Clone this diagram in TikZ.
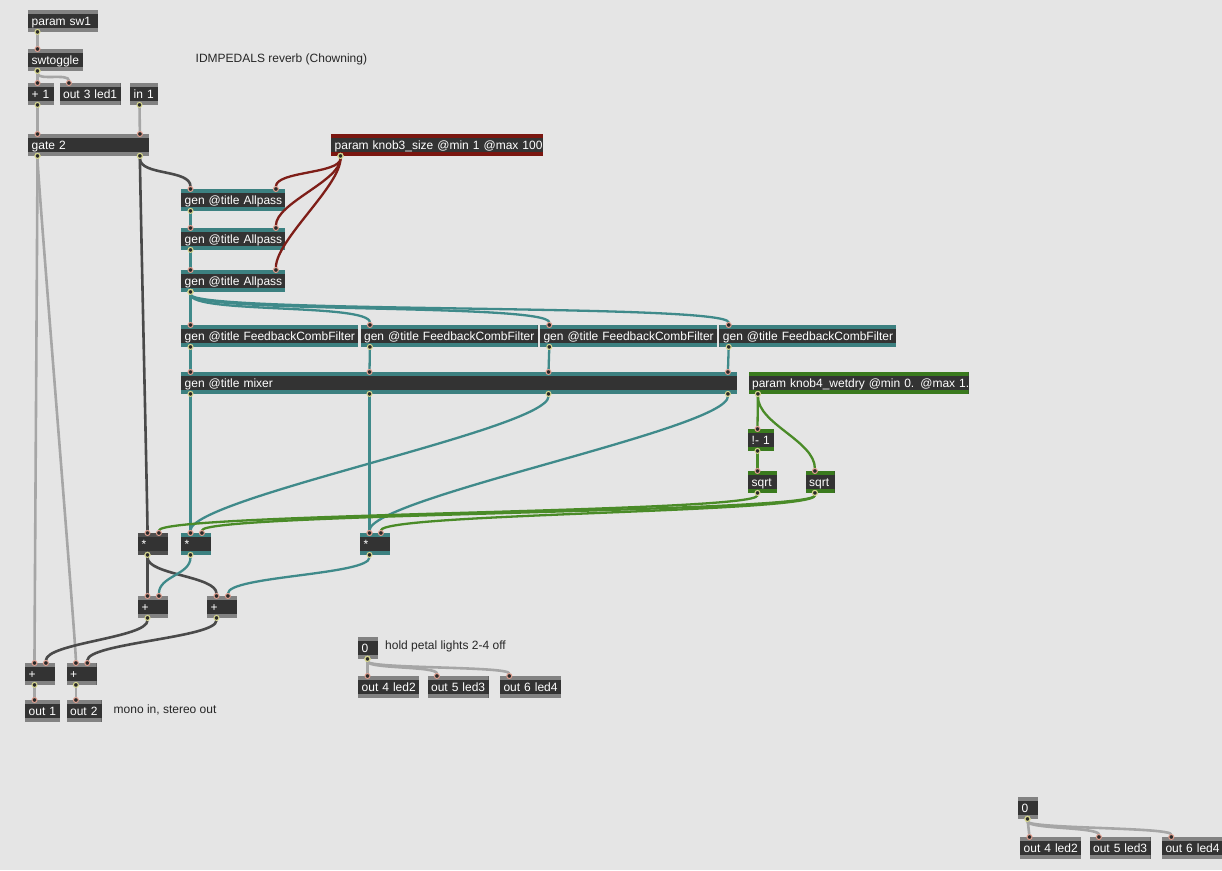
\documentclass[tikz,border=0pt]{standalone}
\usepackage{fontspec}
\setmainfont{Liberation Sans}
\usetikzlibrary{arrows.meta,positioning}
\definecolor{patchbg}{HTML}{E5E5E5}
\definecolor{maxbody}{HTML}{333333}
\definecolor{ctlbar}{HTML}{828282}
\definecolor{sigbar}{HTML}{4F4F4F}
\definecolor{genbar}{HTML}{3C8080}
\definecolor{redbar}{HTML}{7A1610}
\definecolor{grnbar}{HTML}{3A7A1E}
\definecolor{ctlline}{HTML}{A6A6A6}
\definecolor{sigline}{HTML}{4A4A4A}
\definecolor{genline}{HTML}{3F8A8A}
\definecolor{redline}{HTML}{7E1E18}
\definecolor{grnline}{HTML}{4A8B28}
\definecolor{inring}{HTML}{E0A090}
\definecolor{outring}{HTML}{D8D890}
\definecolor{portfill}{HTML}{2A2A2A}

\tikzset{
  inport/.tip={Circle[length=6pt 0 1,width=6pt 0 1,line width=1pt 0 1,color=inring,fill=portfill]},
  outport/.tip={Circle[length=6pt 0 1,width=6pt 0 1,line width=1pt 0 1,color=outring,fill=portfill]},
}

\begin{document}
\begin{tikzpicture}[
    x=1pt, y=-1pt,
    mx/.style={anchor=north west,fill=maxbody,text=white,font=\fontsize{12}{14}\selectfont,
      inner xsep=3.5pt,inner ysep=0pt,minimum height=21.5pt,text height=10.5pt,text depth=1.5pt,
      execute at begin node=\hbox\bgroup,execute at end node=\egroup},
    bar/.style={path picture={
      \fill[#1] (path picture bounding box.north west) rectangle ([yshift=-3.5pt]path picture bounding box.north east);
      \fill[#1] (path picture bounding box.south west) rectangle ([yshift=3.5pt]path picture bounding box.south east);}},
    ctlbox/.style={bar=ctlbar},
    sigbox/.style={bar=sigbar},
    genbox/.style={bar=genbar},
    redbox/.style={bar=redbar},
    grnbox/.style={bar=grnbar},
    note/.style={inner sep=0pt,anchor=base west,text=black!85,font=\fontsize{12}{14}\selectfont},
    cord/.style={shorten <=-3pt,shorten >=-3pt,arrows={outport-inport}},
    ctl/.style={cord,draw=ctlline,line width=2.6pt},
    sig/.style={cord,draw=sigline,line width=2.6pt},
    gen/.style={cord,draw=genline,line width=2.3pt},
    red/.style={cord,draw=redline,line width=2.3pt},
    grn/.style={cord,draw=grnline,line width=2.3pt},
    mc/.style={to path={.. controls +(0,#1) and +(0,-#1) .. (\tikztotarget)}},
    mc/.default=20
  ]
    \fill[patchbg] (0,0) rectangle (1222,870);
    \useasboundingbox (0,0) rectangle (1222,870);

    % switch and input
    \node[mx,ctlbox,text width=63pt] (psw) at (28,10) {param sw1};
    \node[mx,ctlbox,text width=48pt] (swt) at (28,49) {swtoggle};
    \node[mx,ctlbox,text width=19pt] (plus1) at (28,83) {+ 1};
    \node[mx,ctlbox,text width=54pt,right=5pt of plus1] (led1) {out 3 led1};
    \node[mx,ctlbox,text width=21pt] (in1) at (130,83) {in 1};
    \node[mx,ctlbox,text width=114pt] (gate) at (28,134) {gate 2};
    \node[note] (title) at (195.5,62) {IDMPEDALS reverb (Chowning)};

    % allpass chain
    \node[mx,redbox,text width=205pt] (knob3) at (331,134) {param knob3\_size @min 1 @max 100};
    \node[mx,genbox,text width=97pt] (ap1) at (181,189) {gen @title Allpass};
    \node[mx,genbox,text width=97pt] (ap2) at (181,228) {gen @title Allpass};
    \node[mx,genbox,text width=97pt] (ap3) at (181,270) {gen @title Allpass};

    % comb filters
    \node[mx,genbox,text width=170pt] (fcfA) at (181,325) {gen @title FeedbackCombFilter};
    \node[mx,genbox,text width=170pt,right=2pt of fcfA] (fcfB) {gen @title FeedbackCombFilter};
    \node[mx,genbox,text width=170pt,right=2pt of fcfB] (fcfC) {gen @title FeedbackCombFilter};
    \node[mx,genbox,text width=170pt,right=2pt of fcfC] (fcfD) {gen @title FeedbackCombFilter};
    \node[mx,genbox,text width=549pt] (mix) at (181,372) {gen @title mixer};

    % wet/dry
    \node[mx,grnbox,text width=213pt,right=11pt of mix] (knob4) {param knob4\_wetdry @min 0. @max 1.};
    \node[mx,grnbox,text width=19pt] (inv) at (748,429) {!- 1};
    \node[mx,grnbox,text width=22pt] (sqrtA) at (748,471) {sqrt};
    \node[mx,grnbox,text width=22pt,right=28pt of sqrtA] (sqrtB) {sqrt};
    \node[mx,sigbox,text width=23pt] (mulA) at (138,533) {*};
    \node[mx,genbox,text width=23pt] (mulB) at (181,533) {*};
    \node[mx,genbox,text width=23pt] (mulC) at (360,533) {*};
    \node[mx,ctlbox,text width=23pt] (addA) at (138,596) {+};
    \node[mx,ctlbox,text width=23pt] (addB) at (207,596) {+};

    % outputs
    \node[mx,ctlbox,text width=23pt] (addC) at (25,663) {+};
    \node[mx,ctlbox,text width=23pt,right=11pt of addC] (addD) {+};
    \node[mx,ctlbox,text width=28pt] (outL) at (25,700) {out 1};
    \node[mx,ctlbox,text width=28pt,right=6pt of outL] (outR) {out 2};
    \node[note] (monoNote) at (113.5,713) {mono in, stereo out};

    % petal lights
    \node[mx,ctlbox,text width=13pt] (zeroA) at (358,637) {0};
    \node[note] (holdNote) at (385,649.5) {hold petal lights 2-4 off};
    \node[mx,ctlbox,text width=54pt] (ledA2) at (358,676) {out 4 led2};
    \node[mx,ctlbox,text width=54pt,right=8pt of ledA2] (ledA3) {out 5 led3};
    \node[mx,ctlbox,text width=54pt,right=11pt of ledA3] (ledA4) {out 6 led4};
    \node[mx,ctlbox,text width=13pt] (zeroB) at (1018,797) {0};
    \node[mx,ctlbox,text width=54pt] (ledB2) at (1020,837) {out 4 led2};
    \node[mx,ctlbox,text width=54pt,right=8pt of ledB2] (ledB3) {out 5 led3};
    \node[mx,ctlbox,text width=54pt,right=11pt of ledB3] (ledB4) {out 6 led4};

    % control cords
    \draw[ctl] ([xshift=9.5pt]psw.south west) -- ([xshift=9.5pt]swt.north west);
    \draw[ctl] ([xshift=9.5pt]swt.south west) -- ([xshift=9.5pt]plus1.north west);
    \draw[ctl] ([xshift=9.5pt]swt.south west) to[mc=10] ([xshift=9.5pt]led1.north west);
    \draw[ctl] ([xshift=9.5pt]plus1.south west) -- ([xshift=9.5pt]gate.north west);
    \draw[ctl] ([xshift=9.5pt]in1.south west) -- ([xshift=-9.5pt]gate.north east);
    \draw[ctl] ([xshift=9.5pt]gate.south west) to[mc] ([xshift=9.5pt]addC.north west);
    \draw[ctl] ([xshift=9.5pt]gate.south west) to[mc] ([xshift=9.5pt]addD.north west);
    \draw[ctl] ([xshift=9.5pt]addC.south west) -- ([xshift=9.5pt]outL.north west);
    \draw[ctl] ([xshift=9.5pt]addD.south west) -- ([xshift=9.5pt]outR.north west);
    \draw[ctl] ([xshift=9.5pt]zeroA.south west) -- ([xshift=9.5pt]ledA2.north west);
    \draw[ctl] ([xshift=9.5pt]zeroA.south west) to[mc=10] ([xshift=9.5pt]ledA3.north west);
    \draw[ctl] ([xshift=9.5pt]zeroA.south west) to[mc=10] ([xshift=9.5pt]ledA4.north west);
    \draw[ctl] ([xshift=9.5pt]zeroB.south west) -- ([xshift=9.5pt]ledB2.north west);
    \draw[ctl] ([xshift=9.5pt]zeroB.south west) to[mc=10] ([xshift=9.5pt]ledB3.north west);
    \draw[ctl] ([xshift=9.5pt]zeroB.south west) to[mc=10] ([xshift=9.5pt]ledB4.north west);

    % dry signal
    \draw[sig] ([xshift=-9.5pt]gate.south east) to[mc] ([xshift=9.5pt]ap1.north west);
    \draw[sig] ([xshift=-9.5pt]gate.south east) to[mc] ([xshift=9.5pt]mulA.north west);
    \draw[sig] ([xshift=9.5pt]mulA.south west) -- ([xshift=9.5pt]addA.north west);
    \draw[sig] ([xshift=9.5pt]mulA.south west) to[mc] ([xshift=9.5pt]addB.north west);
    \draw[sig] ([xshift=9.5pt]addA.south west) to[mc] ([xshift=-9.5pt]addC.north east);
    \draw[sig] ([xshift=9.5pt]addB.south west) to[mc] ([xshift=-9.5pt]addD.north east);

    % reverb signal
    \draw[gen] ([xshift=9.5pt]ap1.south west) -- ([xshift=9.5pt]ap2.north west);
    \draw[gen] ([xshift=9.5pt]ap2.south west) -- ([xshift=9.5pt]ap3.north west);
    \draw[gen] ([xshift=9.5pt]ap3.south west) -- ([xshift=9.5pt]fcfA.north west);
    \draw[gen] ([xshift=9.5pt]ap3.south west) to[mc=22] ([xshift=9.5pt]fcfB.north west);
    \draw[gen] ([xshift=9.5pt]ap3.south west) to[mc=22] ([xshift=9.5pt]fcfC.north west);
    \draw[gen] ([xshift=9.5pt]ap3.south west) to[mc=22] ([xshift=9.5pt]fcfD.north west);
    \draw[gen] ([xshift=9.5pt]fcfA.south west) -- ([xshift=9.5pt]mix.north west);
    \draw[gen] ([xshift=9.5pt]fcfB.south west) -- ([xshift=188.5pt]mix.north west);
    \draw[gen] ([xshift=9.5pt]fcfC.south west) -- ([xshift=367.5pt]mix.north west);
    \draw[gen] ([xshift=9.5pt]fcfD.south west) -- ([xshift=-9.5pt]mix.north east);
    \draw[gen] ([xshift=9.5pt]mix.south west) -- ([xshift=9.5pt]mulB.north west);
    \draw[gen] ([xshift=188.5pt]mix.south west) -- ([xshift=9.5pt]mulC.north west);
    \draw[gen] ([xshift=367.5pt]mix.south west) to[mc=35] ([xshift=9.5pt]mulB.north west);
    \draw[gen] ([xshift=-9.5pt]mix.south east) to[mc=35] ([xshift=9.5pt]mulC.north west);
    \draw[gen] ([xshift=9.5pt]mulB.south west) to[mc] ([xshift=-9.5pt]addA.north east);
    \draw[gen] ([xshift=9.5pt]mulC.south west) to[mc] ([xshift=-9.5pt]addB.north east);

    % room size
    \draw[red] ([xshift=9.5pt]knob3.south west) to[mc=18] ([xshift=-9.5pt]ap1.north east);
    \draw[red] ([xshift=9.5pt]knob3.south west) to[mc=25] ([xshift=-9.5pt]ap2.north east);
    \draw[red] ([xshift=9.5pt]knob3.south west) to[mc=30] ([xshift=-9.5pt]ap3.north east);

    % wet/dry gains
    \draw[grn] ([xshift=9.5pt]knob4.south west) -- ([xshift=9.5pt]inv.north west);
    \draw[grn] ([xshift=9.5pt]knob4.south west) to[mc=30] ([xshift=9.5pt]sqrtB.north west);
    \draw[grn] ([xshift=9.5pt]inv.south west) -- ([xshift=9.5pt]sqrtA.north west);
    \draw[grn] ([xshift=9.5pt]sqrtA.south west) to[mc] ([xshift=-9.5pt]mulA.north east);
    \draw[grn] ([xshift=9.5pt]sqrtB.south west) to[mc] ([xshift=-9.5pt]mulB.north east);
    \draw[grn] ([xshift=9.5pt]sqrtB.south west) to[mc] ([xshift=-9.5pt]mulC.north east);
\end{tikzpicture}
\end{document}
